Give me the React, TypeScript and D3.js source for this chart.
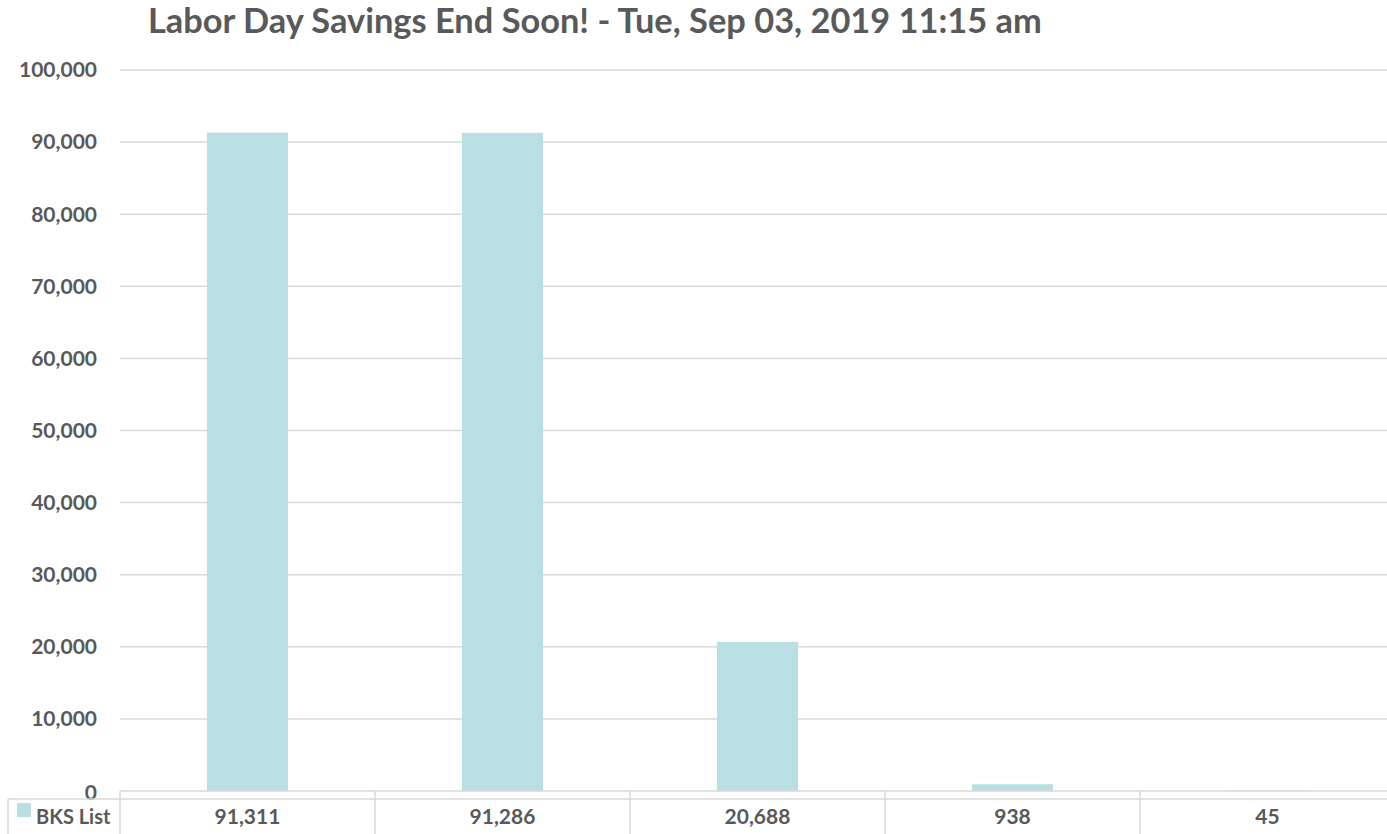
import { useEffect, useRef } from 'react';
import * as d3 from 'd3';

const categories: string[] = ['A', 'B', 'C', 'D', 'E'];
const bksList: number[] = [91311, 91286, 20688, 938, 45];
const yTicks: number[] = [0, 10000, 20000, 30000, 40000, 50000, 60000, 70000, 80000, 90000, 100000];
const seriesName = 'BKS List';
const title = 'Labor Day Savings End Soon! - Tue, Sep 03, 2019 11:15 am';

const App = () => {
    const svgRef = useRef<SVGSVGElement>(null);

    useEffect(() => {
        const W = 1387;
        const H = 834;
        const left = 120;
        const right = 1395;
        const top = 70;
        const bottom = 791;
        const textColor = '#595959';
        const gridColor = '#d9d9d9';
        const barColor = '#b9dfe3';
        const font = 'Lato, "Open Sans", sans-serif';
        const small = '21px';

        const svg = d3.select(svgRef.current);
        svg.selectAll('*').remove();
        svg.attr('width', W).attr('height', H);

        // scales
        const x = d3.scaleBand<string>()
            .domain(categories)
            .range([left, right])
            .paddingInner(0)
            .paddingOuter(0);

        const y = d3.scaleLinear()
            .domain([0, 100000])
            .range([bottom, top]);

        // title
        svg.append('text')
            .attr('x', 148)
            .attr('y', 33)
            .style('font-family', font)
            .style('font-weight', 'bold')
            .style('font-size', '34.4px')
            .style('fill', textColor)
            .text(title);

        // gridlines
        svg.append('g')
            .selectAll('line')
            .data(yTicks.filter(t => t > 0))
            .enter().append('line')
            .attr('x1', left)
            .attr('x2', right)
            .attr('y1', d => y(d))
            .attr('y2', d => y(d))
            .style('stroke', gridColor)
            .style('stroke-width', 1.5);

        // y labels
        svg.append('g')
            .selectAll('text')
            .data(yTicks)
            .enter().append('text')
            .attr('x', 97)
            .attr('y', d => y(d) + (d === 0 ? 2 : 0))
            .attr('dy', '0.35em')
            .style('text-anchor', 'end')
            .style('font-family', font)
            .style('font-weight', 'bold')
            .style('font-size', small)
            .style('fill', textColor)
            .text(d => d3.format(',')(d));

        // bars
        const barW = x.bandwidth() * 0.318;
        svg.append('g')
            .selectAll('rect')
            .data(bksList)
            .enter().append('rect')
            .attr('x', (d, i) => (x(categories[i]) as number) + (x.bandwidth() - barW) / 2)
            .attr('y', d => y(d))
            .attr('width', barW)
            .attr('height', d => bottom - y(d))
            .style('fill', barColor);

        // data table
        const table = svg.append('g');
        const rowTop = bottom + 8;
        table.append('line')
            .attr('x1', left).attr('x2', right)
            .attr('y1', bottom).attr('y2', bottom)
            .style('stroke', gridColor).style('stroke-width', 1.5);
        table.append('line')
            .attr('x1', 8).attr('x2', right)
            .attr('y1', rowTop).attr('y2', rowTop)
            .style('stroke', gridColor).style('stroke-width', 1.5);
        table.append('line')
            .attr('x1', 8).attr('x2', 8)
            .attr('y1', rowTop).attr('y2', H + 10)
            .style('stroke', gridColor).style('stroke-width', 1.5);
        table.selectAll('.sep')
            .data(categories)
            .enter().append('line')
            .attr('class', 'sep')
            .attr('x1', d => x(d) as number)
            .attr('x2', d => x(d) as number)
            .attr('y1', bottom)
            .attr('y2', H + 10)
            .style('stroke', gridColor).style('stroke-width', 1.5);

        table.append('rect')
            .attr('x', 17)
            .attr('y', 803)
            .attr('width', 14)
            .attr('height', 14)
            .style('fill', barColor);
        table.append('text')
            .attr('x', 36)
            .attr('y', 824)
            .style('font-family', font)
            .style('font-weight', 'bold')
            .style('font-size', '20px')
            .style('fill', textColor)
            .text(seriesName);

        table.selectAll('.val')
            .data(bksList)
            .enter().append('text')
            .attr('class', 'val')
            .attr('x', (d, i) => (x(categories[i]) as number) + x.bandwidth() / 2)
            .attr('y', 824)
            .style('text-anchor', 'middle')
            .style('font-family', font)
            .style('font-weight', 'bold')
            .style('font-size', small)
            .style('fill', textColor)
            .text(d => d3.format(',')(d));
    }, []);

    return (
        <svg ref={svgRef} style={{ position: 'absolute', left: 0, top: 0, background: '#fff' }}></svg>
    );
};

export default App;
